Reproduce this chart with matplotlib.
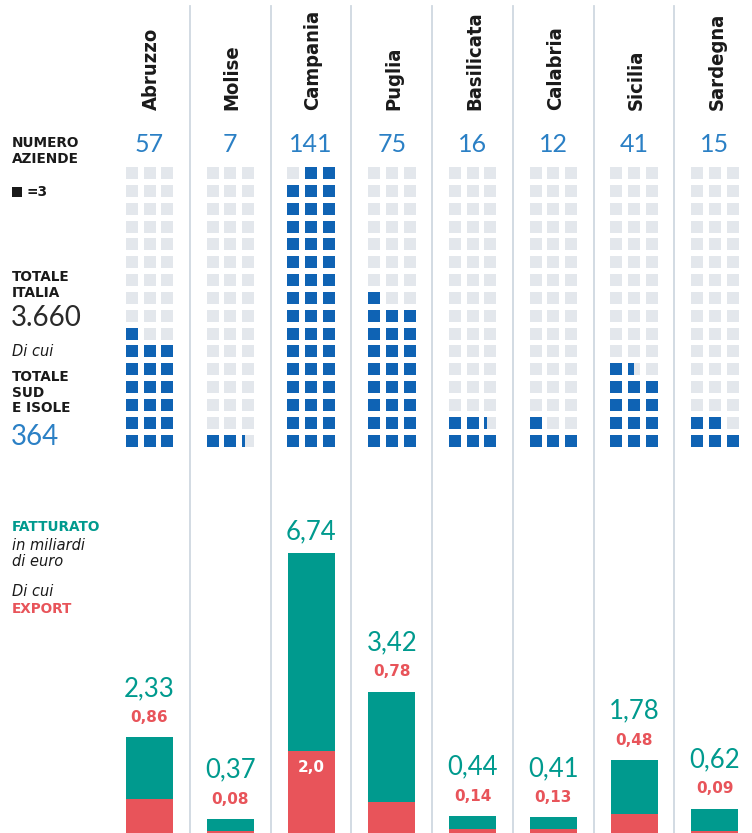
import matplotlib
matplotlib.use("Agg")
import matplotlib.pyplot as plt
from matplotlib.patches import Rectangle
import numpy as np

# ---------------- data ----------------
regions = ["Abruzzo", "Molise", "Campania", "Puglia", "Basilicata", "Calabria", "Sicilia", "Sardegna"]
aziende = [57, 7, 141, 75, 16, 12, 41, 15]
fatturato = [2.33, 0.37, 6.74, 3.42, 0.44, 0.41, 1.78, 0.62]
export = [0.86, 0.08, 2.0, 0.78, 0.14, 0.13, 0.48, 0.09]
fatturato_labels = ["2,33", "0,37", "6,74", "3,42", "0,44", "0,41", "1,78", "0,62"]
export_labels = ["0,86", "0,08", "2,0", "0,78", "0,14", "0,13", "0,48", "0,09"]
export_inside = [False, False, True, False, False, False, False, False]
top_row_from_right = [False, False, True, False, False, False, False, False]
unit = 3
totale_italia = "3.660"
totale_sud = "364"

# ---------------- style ----------------
W, H = 752, 833
BLUE_SQ = "#0f63b4"
GREY_SQ = "#e3e7ec"
BLUE_TXT = "#2b80c5"
TEAL = "#009a8e"
RED = "#e8545a"
SEP = "#cfd8e0"
DARK = "#1a1a1a"

NUM_FONT = ["Lato", "DejaVu Sans"]
NAME_FONT = ["DejaVu Sans"]
LBL_FONT = ["DejaVu Sans"]

fig = plt.figure(figsize=(W / 100, H / 100), dpi=100)
ax = fig.add_axes([0, 0, 1, 1])
ax.set_xlim(0, W)
ax.set_ylim(H, 0)
ax.axis("off")

x0 = 149.5
pitch = 80.75
centers = [x0 + i * pitch for i in range(len(regions))]

# separators
for i in range(1, len(regions)):
    xs = x0 + (i - 0.5) * pitch
    ax.plot([xs, xs], [6, H], color=SEP, lw=1.3, zorder=0)

# region names & counts
for c, name, n in zip(centers, regions, aziende):
    ax.text(c + 2, 110, name, rotation=90, ha="center", va="bottom",
            fontsize=14.5, fontweight="bold", fontstretch="condensed",
            family=NAME_FONT, color=DARK)
    ax.text(c, 144, str(n), ha="center", va="center", fontsize=18,
            family=NUM_FONT, color=BLUE_TXT)

# waffles
rows, cols = 16, 3
sq = 12.0
px = 17.75
py = 17.85
bottom_y = 446.7
for c, n, flip in zip(centers, aziende, top_row_from_right):
    val = n / unit
    full = int(np.floor(val + 1e-9))
    frac = val - full
    left = c - (2 * px + sq) / 2
    for k in range(rows * cols):
        r, col = divmod(k, cols)
        if flip and r == full // cols and full % cols:
            col = cols - 1 - col
        xx = left + col * px
        yy = bottom_y - r * py - sq
        ax.add_patch(Rectangle((xx, yy), sq, sq, facecolor=GREY_SQ, edgecolor="none"))
        if k < full:
            ax.add_patch(Rectangle((xx, yy), sq, sq, facecolor=BLUE_SQ, edgecolor="none"))
        elif k == full and frac > 1e-6:
            ax.add_patch(Rectangle((xx, yy), sq * frac * 0.75, sq, facecolor=BLUE_SQ, edgecolor="none"))

# left labels
lx = 12
ax.text(lx, 136, "NUMERO\nAZIENDE", ha="left", va="top", fontsize=9.8,
        fontweight="bold", family=LBL_FONT, color=DARK, linespacing=1.15)
ax.add_patch(Rectangle((lx, 187), 10, 10, facecolor=DARK, edgecolor="none"))
ax.text(lx + 15, 192, "=3", ha="left", va="center", fontsize=9.8,
        fontweight="bold", family=LBL_FONT, color=DARK)
ax.text(lx, 270, "TOTALE\nITALIA", ha="left", va="top", fontsize=9.8,
        fontweight="bold", family=LBL_FONT, color=DARK, linespacing=1.15)
ax.text(lx - 1, 318, totale_italia, ha="left", va="center", fontsize=20,
        family=NUM_FONT, color="#2a2a2a")
ax.text(lx, 351, "Di cui", ha="left", va="center", fontsize=10.5,
        style="italic", family=LBL_FONT, color=DARK)
ax.text(lx, 370, "TOTALE\nSUD\nE ISOLE", ha="left", va="top", fontsize=9.8,
        fontweight="bold", family=LBL_FONT, color=DARK, linespacing=1.15)
ax.text(lx - 1, 437, totale_sud, ha="left", va="center", fontsize=20,
        family=NUM_FONT, color=BLUE_TXT)

ax.text(lx, 527, "FATTURATO", ha="left", va="center", fontsize=9.8,
        fontweight="bold", family=LBL_FONT, color=TEAL)
ax.text(lx, 538, "in miliardi\ndi euro", ha="left", va="top", fontsize=10.5,
        style="italic", family=LBL_FONT, color=DARK, linespacing=1.05)
ax.text(lx, 592, "Di cui", ha="left", va="center", fontsize=10.5,
        style="italic", family=LBL_FONT, color=DARK)
ax.text(lx, 609, "EXPORT", ha="left", va="center", fontsize=9.8,
        fontweight="bold", family=LBL_FONT, color=RED)

# ---------------- bars ----------------
bar_top_px = 500
bax = fig.add_axes([0, 0, 1, (H - bar_top_px) / H])
scale = 41.7  # px per billion
span = (H - bar_top_px) / scale
base_off = 1.5 / scale
bax.set_xlim(0, W)
bax.set_ylim(base_off, base_off + span)
bax.axis("off")
bw = 47
bax.bar(centers, fatturato, width=bw, color=TEAL, zorder=2)
bax.bar(centers, export, width=bw, color=RED, zorder=3)
for c, f, e, fl, el, ins in zip(centers, fatturato, export, fatturato_labels, export_labels, export_inside):
    if ins:
        bax.annotate(fl, (c, f), xytext=(0, 22), textcoords="offset pixels",
                     ha="center", va="center", fontsize=18.5, family=NUM_FONT,
                     color=TEAL)
        bax.annotate(el, (c, e), xytext=(0, -16), textcoords="offset pixels",
                     ha="center", va="center", fontsize=11, fontweight="bold",
                     family=LBL_FONT, color="white")
    else:
        bax.annotate(fl, (c, f), xytext=(0, 49), textcoords="offset pixels",
                     ha="center", va="center", fontsize=18.5, family=NUM_FONT,
                     color=TEAL)
        bax.annotate(el, (c, f), xytext=(0, 20), textcoords="offset pixels",
                     ha="center", va="center", fontsize=11, fontweight="bold",
                     family=LBL_FONT, color=RED)

fig.savefig("out.png", dpi=100, facecolor="white")
